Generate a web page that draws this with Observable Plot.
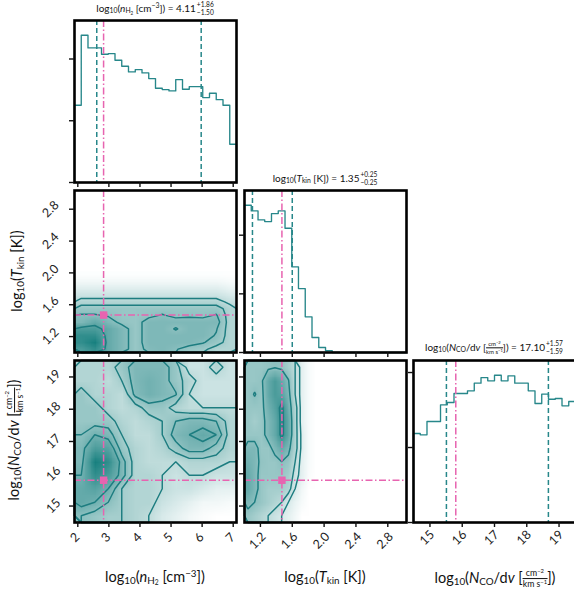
<!DOCTYPE html>
<html><head><meta charset="utf-8">
<script src="https://cdn.jsdelivr.net/npm/d3@7"></script>
<script src="https://cdn.jsdelivr.net/npm/@observablehq/plot@0.6"></script>
<style>
body{margin:0;background:#fff;}
#root{position:relative;width:574px;height:599px;overflow:hidden;font-family:Lato,"DejaVu Sans",sans-serif;color:#111;}
#root svg{overflow:visible;}
.lbl{position:absolute;white-space:nowrap;line-height:1;}
.lbl sub,.lbl sup{font-size:0.68em;line-height:0;}
.lbl sub{vertical-align:-0.25em;}
.lbl sup{vertical-align:0.45em;}
.pm{display:inline-block;font-size:0.66em;vertical-align:middle;margin-left:1px;}
.pm > span{display:block;line-height:1.15;height:1.15em;}
.frac{display:inline-block;font-size:0.6em;vertical-align:middle;text-align:center;}
.frac > span{display:block;line-height:1.2;height:1.2em;}
.frac > span:first-child{border-bottom:1px solid #111;}
</style></head>
<body><div id="root"></div>
<script>
// ---------------- data ----------------
const nTicks = [2, 3, 4, 5, 6, 7];
const tTicks = [1.2, 1.6, 2.0, 2.4, 2.8];
const NTicks = [15, 16, 17, 18, 19];
const histTicks = [0, 1, 2];

const nDomain = [1.894, 7.106];
const tDomain = [1.0, 3.035];
const NDomain = [14.49, 19.51];

const nEdges = [1.894, 2.111, 2.328, 2.545, 2.763, 2.980, 3.197, 3.414, 3.631, 3.849, 4.066, 4.283, 4.500, 4.717, 4.934, 5.151, 5.369, 5.586, 5.803, 6.020, 6.237, 6.454, 6.672, 6.889, 7.106];
const tEdges = [1.000, 1.085, 1.170, 1.254, 1.339, 1.424, 1.509, 1.594, 1.678, 1.763, 1.848, 1.933, 2.018, 2.102, 2.187, 2.272, 2.357, 2.441, 2.526, 2.611, 2.696, 2.781, 2.865, 2.950, 3.035];
const NEdges = [14.490, 14.699, 14.908, 15.118, 15.327, 15.536, 15.745, 15.954, 16.163, 16.373, 16.582, 16.791, 17.000, 17.209, 17.418, 17.628, 17.837, 18.046, 18.255, 18.464, 18.673, 18.883, 19.092, 19.301, 19.510];

const nHist = [1.251, 2.385, 2.180, 2.180, 2.077, 2.088, 1.980, 1.883, 1.791, 1.829, 1.775, 1.683, 1.526, 1.505, 1.483, 1.667, 1.510, 1.553, 1.553, 1.375, 1.445, 1.342, 1.251, 0.619];
const tHist = [2.511, 2.414, 2.261, 2.232, 2.368, 2.414, 2.119, 1.460, 1.090, 0.608, 0.256, 0.085, 0.029, 0, 0, 0, 0, 0, 0, 0, 0, 0, 0, 0];
const NHist = [1.187, 1.169, 1.347, 1.347, 1.569, 1.600, 1.720, 1.720, 1.756, 1.858, 1.933, 1.889, 1.964, 1.889, 1.956, 1.858, 1.858, 1.756, 1.587, 1.711, 1.644, 1.653, 1.556, 1.613];

const truthN = 2.83, truthT = 1.47, truthNco = 15.8;
const quantN = [2.61, 5.97];
const quantT = [1.10, 1.60];
const quantNco = [15.51, 18.67];

// 2D density (rows top -> bottom), n (12 cols) vs Tkin 1.0..2.018 (12 rows)
const gridNT = [
  [0.1,0.1,0.1,0.1,0.1,0.1,0.1,0.1,0.1,0.1,0.1,0.05],
  [0.5,0.5,0.5,0.5,0.5,0.5,0.5,0.5,0.5,0.5,0.5,0.3],
  [1.2,1.2,1.2,1.2,1.2,1.2,1.2,1.2,1.2,1.2,1.2,0.8],
  [2,2,2,2,2,2,2,2,2,2,2,1.5],
  [3,3,3,3,3,3,3,3,3,3,3,2.2],
  [4,4,4,4,4,4,4,4,4,4,4,3],
  [4.6,4.6,4.4,4,4,4.2,4.6,4.2,4.3,4.2,4.6,3],
  [5,6,5,4.2,4,5,5,5,5,5,5,3],
  [7,7,6,5,4,5,5,4.4,5,5,4.6,3],
  [8,8,6,5,4,5,5,5,5,5,4.4,3],
  [8,9,6,5,4,5,5,5,5,4.6,4,3],
  [7,8,6,5,4,4.8,5,4.6,4,3.8,3,3]
];
// n (12 cols) vs N_CO (12 rows, top -> bottom)
const gridNN = [
  [3,3,3,4,5,5,5,4,2,2,3,2],
  [3,3,2.5,3.5,5,5.5,5,4,3,2,2,2],
  [4,3,3,2.5,4.8,5.5,5,4.6,2.5,2,2,2],
  [4,4,3,2.5,3,4,4,3,2.5,2.5,2.5,2.5],
  [4,4,4,3,2.5,3,3.5,4.5,5,5,4.5,3],
  [4.5,5.5,5,3.5,2.5,2.5,3.5,5,5.5,6,5.5,3],
  [5,7,6.5,4,3,2.5,3,4,5,5,4,3],
  [5,9,8,5,3,2.5,2.5,2.5,3,3,3,2.5],
  [5.5,8,7,5,3,3,2.5,2,2.5,2.5,2,2],
  [6,6.5,5.5,3.5,3,3,2.5,2,2,1.5,1,1],
  [6,5.5,4.5,3.5,3,3,2,1.5,1,0.5,0.5,0.3],
  [4.5,4,3.5,3.5,3,2.5,1.5,1,0.5,0.2,0,0]
];
// Tkin 1.0..2.018 (12 cols) vs N_CO (12 rows, top -> bottom)
const gridTN = [
  [4,4,4,4.2,4.4,4.2,3.5,2.5,1,0.3,0,0],
  [4,4,4.2,6,7,6,4.6,2.5,1,0.3,0,0],
  [4,4.6,4,6,7,6.5,5,2.5,1,0.3,0,0],
  [4,4,4,5.5,6.5,8,5.5,3,1,0.3,0,0],
  [4,3.5,4,5,6,8,6,3,1,0.3,0,0],
  [4,4,4,5,6,8,6,3,1.2,0.3,0,0],
  [5,5,4,4,5,6,5,3,1.2,0.3,0,0],
  [5.5,5,4.2,4,4,4.5,4,2.5,1,0.3,0,0],
  [6,5,4,4,4,4,3.5,2,1,0.2,0,0],
  [6,5,4,3.5,3.5,3.5,3,1.5,0.5,0,0,0],
  [5,4.5,4,3.5,3,2.5,1.5,0.8,0.3,0,0,0],
  [4,3.5,3,2.5,2,1.5,1,0.5,0,0,0,0]
];
const levelsNT = [2.5, 3.5, 4.5, 6.5];
const levelsNN = [2.5, 3.5, 4.5, 5.5];
const levelsTN = [1.5, 2.5, 4.5, 7.5];

// ---------------- style ----------------
const TEAL = "#27878a", CONTOUR = "#1d7d80", PINK = "#e764b0";
const FONT = "Lato, 'DejaVu Sans', sans-serif";
const PW = 162, PH = 162;
const M = {l: 48, r: 12, t: 12, b: 48};
const root = document.getElementById("root");
const colL = [74, 243.5, 413];
const rowT = [20, 189.5, 360];
const fmtInt = d => String(d);
const fmt1 = d => d.toFixed(1);

function stepData(edges, vals) {
  const pts = [{x: edges[0], y: 0}];
  vals.forEach((v, i) => pts.push({x: edges[i], y: v}));
  pts.push({x: edges[edges.length - 1], y: vals[vals.length - 1]});
  pts.push({x: edges[edges.length - 1], y: 0});
  return pts;
}

function panel(left, top, o) {
  const marks = [...o.marks];
  marks.push(Plot.frame({stroke: "black", strokeWidth: 2.6}));
  marks.push(Plot.axisX({ticks: o.xTicks, tickSize: 5, strokeWidth: 1.4, tickFormat: () => "", label: null}));
  marks.push(Plot.axisY({ticks: o.yTicks, tickSize: 5, strokeWidth: 1.4, tickFormat: () => "", label: null}));
  if (o.xLabels) marks.push(Plot.text(o.xTicks, {x: d => d, frameAnchor: "bottom", dy: o.xdy, rotate: -45, text: o.xFmt, fontSize: 12.5, fill: "#222", textAnchor: "middle"}));
  if (o.yLabels) marks.push(Plot.text(o.yTicks, {y: d => d, frameAnchor: "left", dx: o.ydx, rotate: -45, text: o.yFmt, fontSize: 12.5, fill: "#222", textAnchor: "middle"}));
  const chart = Plot.plot({
    width: PW + M.l + M.r, height: PH + M.t + M.b,
    marginLeft: M.l, marginRight: M.r, marginTop: M.t, marginBottom: M.b,
    style: {background: "transparent", overflow: "visible", fontFamily: FONT, fontSize: "12px"},
    x: {domain: o.xDomain},
    y: {domain: o.yDomain},
    color: {type: "linear", domain: [0, 9], range: ["#ffffff", "#17807f"], clamp: true},
    marks
  });
  chart.style.position = "absolute";
  chart.style.left = (left - M.l) + "px";
  chart.style.top = (top - M.t) + "px";
  root.append(chart);
}

function histMarks(edges, vals, quant, truth) {
  return [
    Plot.line(stepData(edges, vals), {x: "x", y: "y", curve: "step-after", stroke: TEAL, strokeWidth: 1.35}),
    Plot.ruleX(quant, {stroke: TEAL, strokeWidth: 1.5, strokeDasharray: "5,3"}),
    Plot.ruleX([truth], {stroke: PINK, strokeWidth: 1.5, strokeDasharray: "7,2.5,1.5,2.5"})
  ];
}

function densMarks(grid, x1, x2, y1, y2, levels, tx, ty) {
  const flat = grid.flat();
  const w = grid[0].length, h = grid.length;
  return [
    Plot.raster(flat, {width: w, height: h, x1, x2, y1, y2, fill: d => d}),
    Plot.contour(flat, {width: w, height: h, x1, x2, y1, y2, value: d => d, thresholds: levels, stroke: CONTOUR, strokeWidth: 1.45, fill: "none"}),
    Plot.ruleX([tx], {stroke: PINK, strokeWidth: 1.5, strokeDasharray: "7,2.5,1.5,2.5"}),
    Plot.ruleY([ty], {stroke: PINK, strokeWidth: 1.5, strokeDasharray: "7,2.5,1.5,2.5"}),
    Plot.dot([[tx, ty]], {x: d => d[0], y: d => d[1], symbol: "square", r: 4.2, fill: PINK, stroke: "none"})
  ];
}

// row 1
panel(colL[0], rowT[0], {xDomain: nDomain, yDomain: [0, 1.1 * d3.max(nHist)], xTicks: nTicks, yTicks: histTicks,
  marks: histMarks(nEdges, nHist, quantN, truthN)});
// row 2
panel(colL[0], rowT[1], {xDomain: nDomain, yDomain: tDomain, xTicks: nTicks, yTicks: tTicks,
  yLabels: true, yFmt: fmt1, ydx: -24,
  marks: densMarks(gridNT, nDomain[0], nDomain[1], tEdges[12], tEdges[0], levelsNT, truthN, truthT)});
panel(colL[1], rowT[1], {xDomain: tDomain, yDomain: [0, 1.1 * d3.max(tHist)], xTicks: tTicks, yTicks: histTicks,
  marks: histMarks(tEdges, tHist, quantT, truthT)});
// row 3
panel(colL[0], rowT[2], {xDomain: nDomain, yDomain: NDomain, xTicks: nTicks, yTicks: NTicks,
  xLabels: true, xFmt: fmtInt, xdy: 18, yLabels: true, yFmt: fmtInt, ydx: -21,
  marks: densMarks(gridNN, nDomain[0], nDomain[1], NDomain[1], NDomain[0], levelsNN, truthN, truthNco)});
panel(colL[1], rowT[2], {xDomain: tDomain, yDomain: NDomain, xTicks: tTicks, yTicks: NTicks,
  xLabels: true, xFmt: fmt1, xdy: 21,
  marks: densMarks(gridTN, tEdges[0], tEdges[12], NDomain[1], NDomain[0], levelsTN, truthT, truthNco)});
panel(colL[2], rowT[2], {xDomain: NDomain, yDomain: [0, 1.1 * d3.max(NHist)], xTicks: NTicks, yTicks: histTicks,
  xLabels: true, xFmt: fmtInt, xdy: 18,
  marks: histMarks(NEdges, NHist, quantNco, truthNco)});

// ---------------- text ----------------
const nLabel = 'log<sub>10</sub>(<i>n</i><sub>H<sub>2</sub></sub> [cm<sup>−3</sup>])';
const tLabel = 'log<sub>10</sub>(<i>T</i><sub>kin</sub> [K])';
const NLabel = 'log<sub>10</sub>(<i>N</i><sub>CO</sub>/d<i>v</i> [<span class="frac"><span>cm<sup>−2</sup></span><span>km s<sup>−1</sup></span></span>])';
const titleN = ["4.11", "+1.86", "−1.50"];
const titleT = ["1.35", "+0.25", "−0.25"];
const titleNco = ["17.10", "+1.57", "−1.59"];
const pm = t => `${t[0]}<span class="pm"><span>${t[1]}</span><span>${t[2]}</span></span>`;

function label(html, cx, cy, size, rot) {
  const d = document.createElement("div");
  d.className = "lbl";
  d.innerHTML = html;
  d.style.fontSize = size + "px";
  d.style.left = cx + "px";
  d.style.top = cy + "px";
  d.style.transform = "translate(-50%,-50%)" + (rot ? " rotate(-90deg)" : "");
  root.append(d);
}
label(nLabel + " = " + pm(titleN), 155, 9, 10);
label(tLabel + " = " + pm(titleT), 325, 179, 10);
label(NLabel + " = " + pm(titleNco), 494, 348, 10);
label(nLabel, 155, 577, 14.5);
label(tLabel, 325, 577, 14.5);
label(NLabel, 495, 579, 14.5);
label(tLabel, 17, 271, 14.5, true);
label(NLabel, 15, 440, 14.5, true);
</script></body></html>
